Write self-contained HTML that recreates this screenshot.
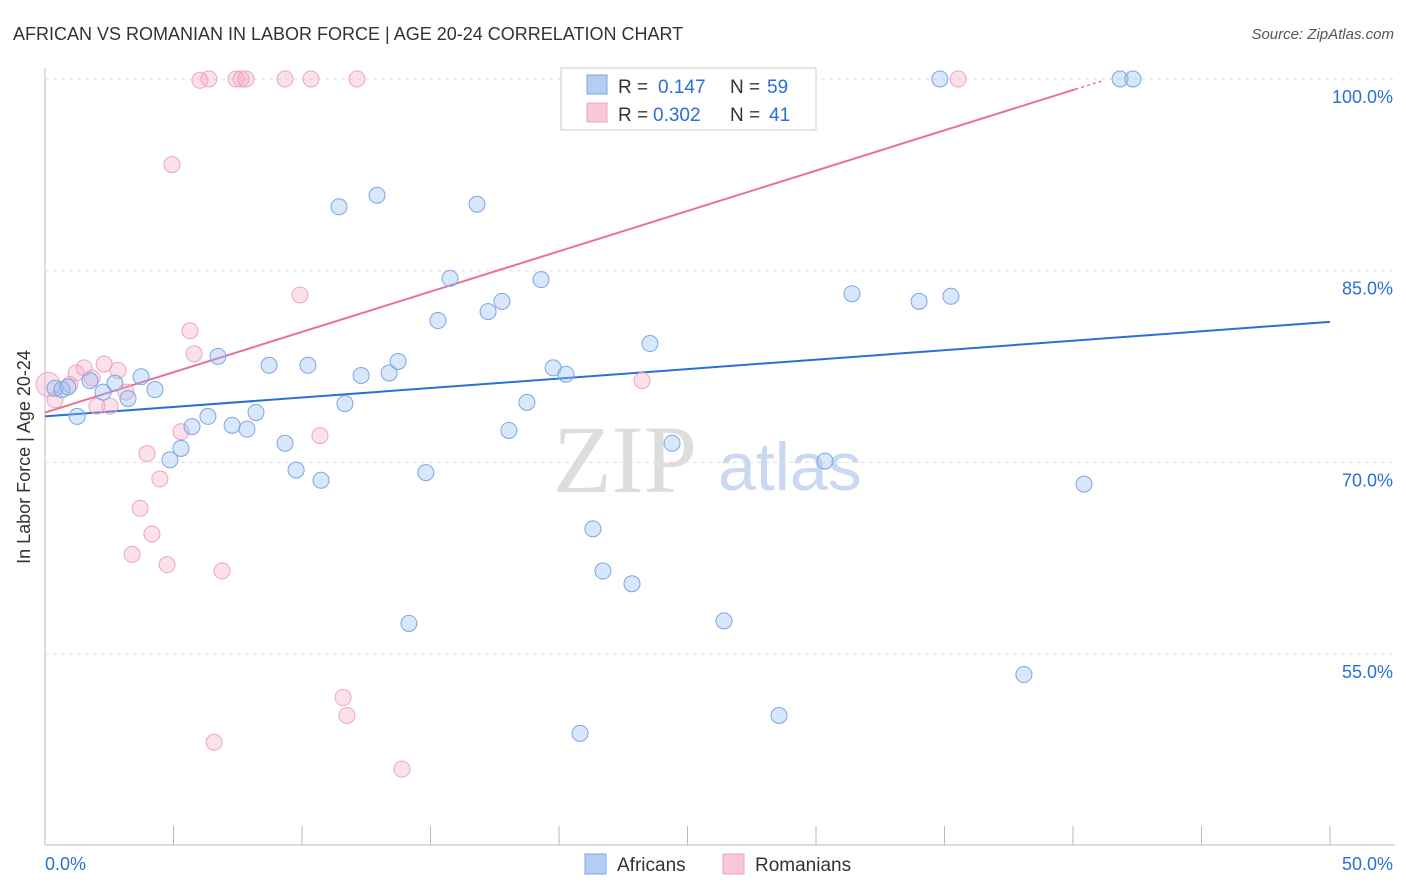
<!DOCTYPE html>
<html><head><meta charset="utf-8"><style>
body{margin:0;background:#fff;font-family:"Liberation Sans",sans-serif;}
svg{display:block}
</style></head><body>
<svg id="chart" width="1406" height="892">
<text x="13" y="40" font-size="18" fill="#333">AFRICAN VS ROMANIAN IN LABOR FORCE | AGE 20-24 CORRELATION CHART</text>
<text x="1394" y="39" font-size="15" fill="#555" font-style="italic" text-anchor="end">Source: ZipAtlas.com</text>
<text x="30" y="457" font-size="18" fill="#333" text-anchor="middle" transform="rotate(-90 30 457)">In Labor Force | Age 20-24</text>
<text x="553" y="492" font-size="96" fill="#ddd" font-family="Liberation Serif,serif">ZIP</text>
<text x="718" y="490" font-size="68" fill="#c8d9f0">atlas</text>
<g id="grid"></g><g id="trend"></g><g id="pts"></g>
<g>
<rect x="561" y="68" width="255" height="62" fill="#fff" stroke="#ccc"/>
<rect x="587" y="75" width="20" height="19" fill="#b5cdf3" stroke="#7aa6e6"/>
<rect x="587" y="103" width="20" height="19" fill="#f8c6d6" stroke="#eea6bf"/>
<text x="618" y="93" font-size="19" fill="#333">R =</text>
<text x="658" y="93" font-size="19" fill="#2a6fd6">0.147</text>
<text x="730" y="93" font-size="19" fill="#333">N =</text>
<text x="767" y="93" font-size="19" fill="#2a6fd6">59</text>
<text x="618" y="121" font-size="19" fill="#333">R =</text>
<text x="653" y="121" font-size="19" fill="#2a6fd6">0.302</text>
<text x="730" y="121" font-size="19" fill="#333">N =</text>
<text x="769" y="121" font-size="19" fill="#2a6fd6">41</text>
</g>
<g>
<rect x="585" y="854" width="21" height="20" fill="#b5cdf3" stroke="#7aa6e6"/>
<text x="617" y="871" font-size="19" fill="#333">Africans</text>
<rect x="723" y="854" width="21" height="20" fill="#f8c6d6" stroke="#eea6bf"/>
<text x="755" y="871" font-size="19" fill="#333">Romanians</text>
</g>
</svg>
<script>
const yTicks=[100,85,70,55];
const yTickLabels=["100.0%","85.0%","70.0%","55.0%"];
const xTicks=[0,5,10,15,20,25,30,35,40,45,50];
const afrX=[0.39,0.66,0.89,1.25,1.75,2.26,2.72,3.23,3.74,4.28,4.86,5.29,5.72,6.34,6.73,7.28,7.86,8.21,8.72,9.34,9.77,10.23,10.74,11.44,11.67,12.30,12.92,13.39,13.74,14.16,14.82,15.29,15.76,16.81,17.24,17.78,18.05,18.75,19.30,19.77,20.27,20.82,21.32,21.71,22.30,22.84,23.54,24.40,26.42,28.56,30.35,31.40,34.01,34.82,35.25,38.09,40.43,41.83,42.33];
const afrY=[75.8,75.7,75.9,73.6,76.4,75.5,76.2,75.0,76.7,75.7,70.2,71.1,72.8,73.6,78.3,72.9,72.6,73.9,77.6,71.5,69.4,77.6,68.6,90.0,74.6,76.8,90.9,77.0,77.9,57.4,69.2,81.1,84.4,90.2,81.8,82.6,72.5,74.7,84.3,77.4,76.9,48.8,64.8,61.5,100,60.5,79.3,71.5,57.6,50.2,70.1,83.2,82.6,100,83.0,53.4,68.3,100,100];
const romX=[0.12,0.39,0.97,1.21,1.52,1.83,2.02,2.30,2.53,2.84,3.15,3.39,3.70,3.97,4.16,4.47,4.75,4.94,5.29,5.64,5.80,6.03,6.38,6.58,6.89,7.43,7.63,7.82,9.34,9.92,10.35,10.70,11.60,11.75,12.14,13.89,23.23,27.67,35.53];
const romY=[76.1,74.9,76.1,77.0,77.4,76.6,74.4,77.7,74.4,77.2,75.5,62.8,66.4,70.7,64.4,68.7,62.0,93.3,72.4,80.3,78.5,99.9,100,48.1,61.5,100,100,100,100,83.1,100,72.1,51.6,50.2,100,46.0,76.4,100,100];
const afrTrend=[73.6,81.0]; // y at x=0 and x=50
const romTrend=[73.9,0.631]; // intercept, slope
const X=v=>45+v*25.7, Y=v=>79+(100-v)*12.78;
const NS="http://www.w3.org/2000/svg";
function mk(t,a,p){const e=document.createElementNS(NS,t);for(const k in a)e.setAttribute(k,a[k]);p.appendChild(e);return e;}
const g=document.getElementById('grid');
let e=mk('line',{x1:45,y1:68,x2:45,y2:845,stroke:'#bbb'},g);


e=mk('line',{x1:45,y1:845,x2:1395,y2:845,stroke:'#bbb'},g);


yTicks.forEach((t,i)=>{
 e=mk('line',{x1:45,x2:1395,y1:Y(t),y2:Y(t),stroke:'#ddd','stroke-dasharray':'4 4'},g);
 
 
 e=mk('text',{x:1393,y:Y(t)+24,'font-size':18,fill:'#2a6fd6','text-anchor':'end'},g);
 e.textContent=yTickLabels[i];
 
 
});
xTicks.forEach(t=>{
 e=mk('line',{x1:X(t),x2:X(t),y1:826,y2:845,stroke:'#bbb'},g);
 
 
});
e=mk('text',{x:45,y:870,'font-size':18,fill:'#2a6fd6'},g);e.textContent='0.0%';


e=mk('text',{x:1393,y:870,'font-size':18,fill:'#2a6fd6','text-anchor':'end'},g);e.textContent='50.0%';


const p=document.getElementById('pts');
romX.forEach((x,i)=>{
 e=mk('circle',{cx:X(x),cy:Y(romY[i]),r:i==0?12:8,fill:'rgba(244,170,195,0.35)',stroke:'#eea6bf','stroke-width':1},p);
 
 
});
afrX.forEach((x,i)=>{
 e=mk('circle',{cx:X(x),cy:Y(afrY[i]),r:8,fill:'rgba(147,186,240,0.35)',stroke:'#7aa6e6','stroke-width':1},p);
 
 
});
const tr=document.getElementById('trend');
e=mk('line',{x1:X(0),y1:Y(afrTrend[0]),x2:X(50),y2:Y(afrTrend[1]),stroke:'#2a6fd6','stroke-width':2},tr);


const xe=40.1;
e=mk('line',{x1:X(0),y1:Y(romTrend[0]),x2:X(xe),y2:Y(romTrend[0]+romTrend[1]*xe),stroke:'#e8709a','stroke-width':2},tr);


e=mk('line',{x1:X(xe),y1:Y(romTrend[0]+romTrend[1]*xe),x2:X(41.1),y2:Y(romTrend[0]+romTrend[1]*41.1),stroke:'#e8709a','stroke-width':1.5,'stroke-dasharray':'3 3'},tr);


</script>
</body></html>
